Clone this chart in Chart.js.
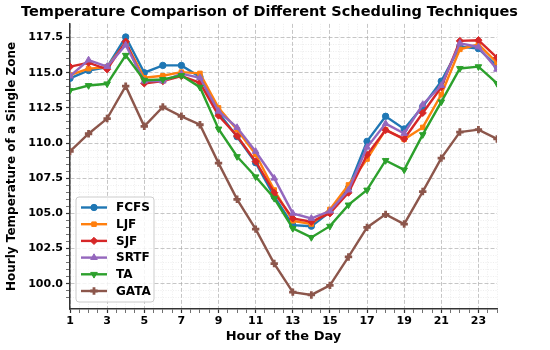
<!DOCTYPE html>
<html>
<head>
<meta charset="utf-8">
<script src="https://cdn.jsdelivr.net/npm/chart.js@4.4.0/dist/chart.umd.min.js"></script>
<style>
  html, body { margin: 0; padding: 0; background: #ffffff; }
  #c { display: block; }
</style>
</head>
<body>
<canvas id="c" width="550" height="350"></canvas>
<script>
// ---------------- DATA ----------------
const hours = [1,2,3,4,5,6,7,8,9,10,11,12,13,14,15,16,17,18,19,20,21,22,23,24];
const seriesNames = ["FCFS", "LJF", "SJF", "SRTF", "TA", "GATA"];
const fcfs = [114.6,115.16,115.4,117.54,115.0,115.52,115.52,114.7,112.15,110.45,108.6,106.2,104.16,104.09,105.1,106.8,110.12,111.9,111.0,112.6,114.4,116.86,116.71,115.47];
const ljf  = [114.83,115.29,115.4,117.14,114.64,114.78,115.04,114.95,112.5,110.95,109.2,106.66,104.47,104.24,105.28,107.02,108.86,110.95,110.26,111.11,113.45,116.66,117.02,115.71];
const sjf  = [115.43,115.71,115.24,117.21,114.24,114.4,114.76,114.28,111.95,110.5,108.69,106.47,104.64,104.4,105.0,106.47,109.16,110.92,110.29,112.14,113.97,117.26,117.31,116.07];
const srtf = [114.76,115.9,115.43,116.97,114.4,114.4,114.93,114.64,112.26,111.1,109.4,107.5,105.0,104.64,105.16,106.66,109.7,111.38,110.68,112.74,114.09,117.09,116.83,115.24];
const ta   = [113.74,114.09,114.21,116.24,114.47,114.52,114.8,113.97,111.0,109.04,107.6,106.07,103.93,103.29,104.09,105.6,106.66,108.76,108.09,110.6,112.93,115.3,115.43,114.24];
const gata = [109.4,110.66,111.74,114.04,111.19,112.57,111.9,111.3,108.57,106.0,103.88,101.43,99.4,99.2,99.88,101.9,104.0,104.93,104.24,106.55,108.93,110.78,110.95,110.29];
const xTickLabels = [1,3,5,7,9,11,13,15,17,19,21,23];
const yTickLabels = [100.0,102.5,105.0,107.5,110.0,112.5,115.0,117.5];

// ---------------- STYLE ----------------
const FONT = "'DejaVu Sans', 'Liberation Sans', sans-serif";
const colors = ["#1f77b4", "#ff7f0e", "#d62728", "#9467bd", "#2ca02c", "#8c564b"];
const pStyles = ["circle", "rect", "rectRot", "triangle", "triangle", "crossRot"];
const pRot = [0, 0, 0, 0, 180, 45];
const pRad = [3.2, 3.2, 3.6, 3.8, 3.8, 3.7];
const pBW = [1, 1, 1, 1, 1, 2.8];
const allSeries = [fcfs, ljf, sjf, srtf, ta, gata];

const datasets = allSeries.map((vals, i) => ({
  label: seriesNames[i],
  data: hours.map((h, k) => ({ x: h, y: vals[k] })),
  borderColor: colors[i],
  backgroundColor: colors[i],
  borderWidth: 2.4,
  pointStyle: pStyles[i],
  pointRotation: pRot[i],
  pointRadius: pRad[i],
  pointBorderWidth: pBW[i],
  pointBackgroundColor: colors[i],
  pointBorderColor: colors[i],
  tension: 0,
  fill: false,
  order: allSeries.length - i
}));

const near = (a, b) => Math.abs(a - b) < 1e-6;
function xKind(v) {
  if (v == null) return 'none';
  if (near((v - 1) / 2, Math.round((v - 1) / 2))) return 'major';
  if (near(v * 2, Math.round(v * 2))) return 'minor';
  return 'none';
}
function yKind(v) {
  if (v == null) return 'none';
  if (near(v / 2.5, Math.round(v / 2.5))) return 'major';
  if (near(v * 2, Math.round(v * 2))) return 'minor';
  return 'none';
}
function gridOpts(kindFn) {
  return {
    display: true,
    drawOnChartArea: true,
    drawTicks: true,
    tickLength: 4,
    color: (ctx) => {
      const k = kindFn(ctx.tick && ctx.tick.value);
      return k === 'major' ? 'rgba(170,170,170,0.75)' : (k === 'minor' ? 'rgba(200,200,200,0.45)' : 'rgba(0,0,0,0)');
    },
    lineWidth: (ctx) => (kindFn(ctx.tick && ctx.tick.value) === 'major' ? 0.9 : 0.7),
    tickColor: (ctx) => (kindFn(ctx.tick && ctx.tick.value) === 'none' ? 'rgba(0,0,0,0)' : '#333333'),
    tickWidth: (ctx) => (kindFn(ctx.tick && ctx.tick.value) === 'major' ? 1.2 : 0.7),
    tickBorderDash: []
  };
}
function borderOpts(kindFn) {
  return {
    display: true,
    color: '#333333',
    width: 1.5,
    dash: (ctx) => {
      if (!ctx.tick) return [];
      const k = kindFn(ctx.tick.value);
      return k === 'major' ? [4, 2] : [1, 1.5];
    }
  };
}

// Move the title so it is centred like the reference figure
const titleShift = {
  id: 'titleShift',
  afterLayout(chart) {
    if (chart.titleBlock) {
      chart.titleBlock.left += 21;
      chart.titleBlock.right += 21;
    }
  }
};

// Legend drawn inside the plot (lower-left), matplotlib-like framed box
const insideLegend = {
  id: 'insideLegend',
  afterDraw(chart) {
    const ctx = chart.ctx, ca = chart.chartArea;
    const w = 78, h = 105;
    const x0 = ca.left + 6, y0 = ca.bottom - 7 - h;
    ctx.save();
    const r = 3;
    ctx.beginPath();
    ctx.moveTo(x0 + r, y0);
    ctx.lineTo(x0 + w - r, y0);
    ctx.quadraticCurveTo(x0 + w, y0, x0 + w, y0 + r);
    ctx.lineTo(x0 + w, y0 + h - r);
    ctx.quadraticCurveTo(x0 + w, y0 + h, x0 + w - r, y0 + h);
    ctx.lineTo(x0 + r, y0 + h);
    ctx.quadraticCurveTo(x0, y0 + h, x0, y0 + h - r);
    ctx.lineTo(x0, y0 + r);
    ctx.quadraticCurveTo(x0, y0, x0 + r, y0);
    ctx.closePath();
    ctx.fillStyle = 'rgba(255,255,255,0.8)';
    ctx.fill();
    ctx.lineWidth = 1;
    ctx.strokeStyle = '#cccccc';
    ctx.stroke();
    chart.data.datasets.forEach((ds, i) => {
      const cy = y0 + 10.5 + i * 16.7;
      ctx.beginPath();
      ctx.strokeStyle = ds.borderColor;
      ctx.lineWidth = ds.borderWidth;
      ctx.moveTo(x0 + 5, cy);
      ctx.lineTo(x0 + 31, cy);
      ctx.stroke();
      ctx.fillStyle = ds.pointBackgroundColor;
      ctx.strokeStyle = ds.pointBorderColor;
      ctx.lineWidth = ds.pointBorderWidth;
      Chart.helpers.drawPoint(ctx, {
        pointStyle: ds.pointStyle,
        rotation: ds.pointRotation || 0,
        radius: ds.pointRadius,
        borderWidth: ds.pointBorderWidth
      }, x0 + 18, cy);
      ctx.fillStyle = '#000000';
      ctx.font = "bold 12px " + FONT;
      ctx.textBaseline = 'middle';
      ctx.textAlign = 'left';
      ctx.fillText(ds.label, x0 + 40, cy + 0.5);
    });
    ctx.restore();
  }
};

new Chart(document.getElementById('c'), {
  type: 'line',
  data: { datasets },
  options: {
    responsive: false,
    devicePixelRatio: 1,
    animation: false,
    events: [],
    layout: { padding: { top: 0, right: 53, bottom: 0, left: 0 } },
    plugins: {
      legend: { display: false },
      tooltip: { enabled: false },
      title: {
        display: true,
        text: 'Temperature Comparison of Different Scheduling Techniques',
        color: '#000000',
        font: { family: FONT, size: 14.5, weight: 'bold', lineHeight: 1.2 },
        padding: { top: 3.5, bottom: 3 }
      }
    },
    scales: {
      x: {
        type: 'linear',
        min: 1,
        max: 24,
        afterFit: (s) => { s.height = 41; },
        ticks: {
          stepSize: 0.5,
          autoSkip: false,
          maxRotation: 0,
          minRotation: 0,
          padding: 1.5,
          color: '#000000',
          font: { family: FONT, size: 11, weight: 'bold' },
          callback: (v) => (xTickLabels.some(t => near(t, v)) ? String(Math.round(v)) : '')
        },
        grid: gridOpts(xKind),
        border: borderOpts(xKind),
        title: {
          display: true,
          text: 'Hour of the Day',
          color: '#000000',
          font: { family: FONT, size: 13, weight: 'bold', lineHeight: 1.2 },
          padding: { top: 2, bottom: 6 }
        }
      },
      y: {
        type: 'linear',
        min: 98.2,
        max: 118.47,
        afterFit: (s) => { s.width = 70; },
        ticks: {
          stepSize: 0.5,
          autoSkip: false,
          padding: 3,
          color: '#000000',
          font: { family: FONT, size: 11, weight: 'bold' },
          callback: (v) => {
            const t = yTickLabels.find(t => near(t, v));
            return t === undefined ? '' : t.toFixed(1);
          }
        },
        grid: gridOpts(yKind),
        border: borderOpts(yKind),
        title: {
          display: true,
          text: 'Hourly Temperature of a Single Zone',
          color: '#000000',
          font: { family: FONT, size: 12, weight: 'bold', lineHeight: 1.2 },
          padding: { top: 5, bottom: 2 }
        }
      }
    }
  },
  plugins: [titleShift, insideLegend]
});
</script>
</body>
</html>
